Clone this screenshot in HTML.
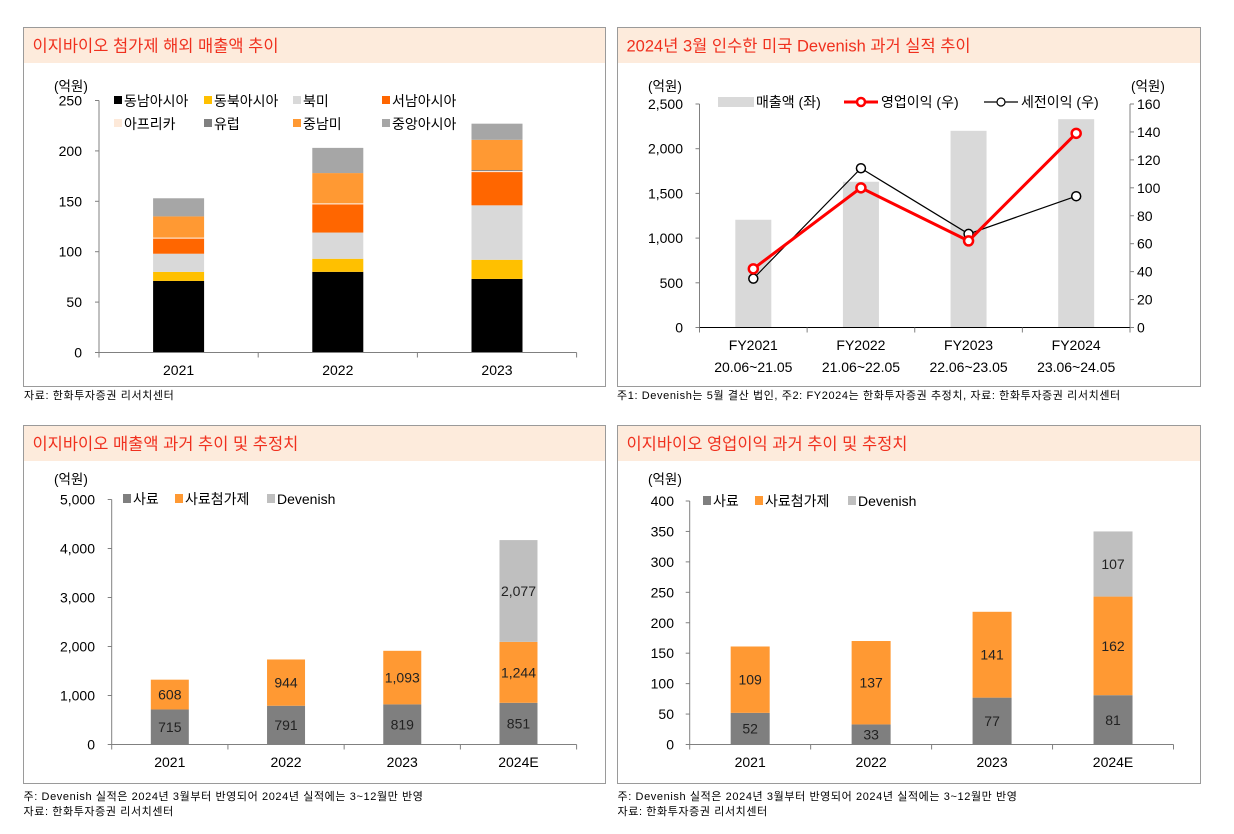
<!DOCTYPE html>
<html><head><meta charset="utf-8"><style>
html,body{margin:0;padding:0;background:#fff}
svg{display:block;font-family:"Liberation Sans","Noto Sans CJK KR",sans-serif}
</style></head><body>
<svg id="s" width="1234" height="834" viewBox="0 0 1234 834" xmlns="http://www.w3.org/2000/svg"></svg>
<script>
// ---- Chart 1 data ----
const c1Years = ['2021','2022','2023'];
const c1Series = ['동남아시아','동북아시아','북미','서남아시아','아프리카','유럽','중남미','중앙아시아'];
const c1SE = [71,80,73];
const c1NE = [9,13,19];
const c1NA = [18,26,54];
const c1SW = [15,28,33];
const c1AF = [1,1,1];
const c1EU = [0,0,1];
const c1LA = [21,30,30];
const c1CA = [18,25,16];
const c1Ticks = [0,50,100,150,200,250];
// ---- Chart 2 data ----
const c2Cats = ['FY2021','FY2022','FY2023','FY2024'];
const c2Periods = ['20.06~21.05','21.06~22.05','22.06~23.05','23.06~24.05'];
const c2Sales = [1205,1630,2200,2330];
const c2OpProfit = [42,100,62,139];
const c2PreTax = [35,114,67,94];
const c2LeftTicks = [0,500,1000,1500,2000,2500];
const c2RightTicks = [0,20,40,60,80,100,120,140,160];
// ---- Chart 3 data ----
const c3Years = ['2021','2022','2023','2024E'];
const c3Feed = [715,791,819,851];
const c3Additive = [608,944,1093,1244];
const c3Devenish = [0,0,0,2077];
const c3Ticks = [0,1000,2000,3000,4000,5000];
// ---- Chart 4 data ----
const c4Years = ['2021','2022','2023','2024E'];
const c4Feed = [52,33,77,81];
const c4Additive = [109,137,141,162];
const c4Devenish = [0,0,0,107];
const c4Ticks = [0,50,100,150,200,250,300,350,400];

const NS='http://www.w3.org/2000/svg';
const S=document.getElementById('s');
function el(tag,attrs,parent,text){const e=document.createElementNS(NS,tag);for(const k in attrs)e.setAttribute(k,attrs[k]);if(text!==undefined)e.textContent=text;(parent||S).appendChild(e);return e;}
function fmt(v){return v.toLocaleString('en-US');}

function panel(x,y,w,h,title,name){
  const g=el('g',{},S);
  
  
  const b=el('rect',{x:x,y:y,width:w,height:h,fill:'#fff',stroke:'#9a9a9a','stroke-width':1},g);
  
  
  const hd=el('rect',{x:x+0.5,y:y+0.5,width:w-1,height:35,fill:'#fdebdc'},g);
  
  
  const t=el('text',{x:x+9,y:y+24,fill:'#f0301e','font-size':16.5},g,title);
  
  
  return g;
}
function note(x,y,txt,g){const t=el('text',{x:x,y:y,'font-size':11,'letter-spacing':0.6,fill:'#000'},g,txt);
  
  }

// ================= Chart 1 =================
(function(){
  const g=panel(23.5,27.5,582,359,'이지바이오 첨가제 해외 매출액 추이','chart1-overseas-sales');
  const ax=99,x1=576.6,y0=352.5,yTop=100.5,max=250;
  const Y=v=>y0-(y0-yTop)*v/max;
  const bw=(x1-ax)/c1Years.length;
  const X=i=>ax+bw*(i+0.5);
  const cols=['#000000','#ffc000','#d9d9d9','#ff6600','#fde9d9','#808080','#ff9933','#a6a6a6'];
  const data=[c1SE,c1NE,c1NA,c1SW,c1AF,c1EU,c1LA,c1CA];
  c1Years.forEach((yr,i)=>{
    let acc=0;
    data.forEach((arr,k)=>{
      const v=arr[i]; if(v<=0) return;
      const r=el('rect',{x:X(i)-25.5,y:Y(acc+v),width:51,height:Y(acc)-Y(acc+v),fill:cols[k]},g);
      
      
      acc+=v;
    });
    const t=el('text',{x:X(i),y:375,'text-anchor':'middle','font-size':14},g,yr);
    
    
  });
  el('line',{x1:ax,y1:yTop,x2:ax,y2:y0,stroke:'#808080'},g);
  el('line',{x1:ax,y1:y0,x2:x1,y2:y0,stroke:'#808080'},g);
  for(let i=0;i<=c1Years.length;i++)el('line',{x1:ax+bw*i,y1:y0,x2:ax+bw*i,y2:y0+5,stroke:'#808080'},g);
  c1Ticks.forEach(v=>{
    el('line',{x1:ax-4,y1:Y(v),x2:ax,y2:Y(v),stroke:'#808080'},g);
    const t=el('text',{x:82,y:Y(v)+5,'text-anchor':'end','font-size':14},g,String(v));
    
    
  });
  const u=el('text',{x:54,y:91,'font-size':13.5},g,'(억원)');
  
  
  const lx=[114,204,293,382], ly=[101,124];
  c1Series.forEach((s,k)=>{
    const xx=lx[k%4], yy=ly[Math.floor(k/4)];
    const lg=el('g',{},g);
    
    
    el('rect',{x:xx,y:yy-5,width:8,height:8,fill:cols[k]},lg);
    el('text',{x:xx+10,y:yy+5,'font-size':14},lg,s);
  });
  note(24,399,'자료: 한화투자증권 리서치센터',S);
})();

// ================= Chart 2 =================
(function(){
  const g=panel(617.5,27.5,583,359,'2024년 3월 인수한 미국 Devenish 과거 실적 추이','chart2-devenish');
  const ax=699.5,ax2=1130,y0=327.5,yTop=104,maxL=2500,maxR=160;
  const YL=v=>y0-(y0-yTop)*v/maxL, YR=v=>y0-(y0-yTop)*v/maxR;
  const bw=(ax2-ax)/c2Cats.length;
  const X=i=>ax+bw*(i+0.5);
  c2Sales.forEach((v,i)=>{
    const r=el('rect',{x:X(i)-18,y:YL(v),width:36,height:y0-YL(v),fill:'#d9d9d9'},g);
    
    
  });
  el('line',{x1:ax,y1:yTop,x2:ax,y2:y0,stroke:'#808080'},g);
  el('line',{x1:ax2,y1:yTop,x2:ax2,y2:y0,stroke:'#808080'},g);
  el('line',{x1:ax,y1:y0,x2:ax2,y2:y0,stroke:'#000'},g);
  for(let i=0;i<=c2Cats.length;i++)el('line',{x1:ax+bw*i,y1:y0,x2:ax+bw*i,y2:y0+5,stroke:'#808080'},g);
  c2LeftTicks.forEach(v=>{
    el('line',{x1:ax-4,y1:YL(v),x2:ax,y2:YL(v),stroke:'#808080'},g);
    const t=el('text',{x:683,y:YL(v)+5,'text-anchor':'end','font-size':14},g,fmt(v));
    
    
  });
  c2RightTicks.forEach(v=>{
    el('line',{x1:ax2,y1:YR(v),x2:ax2+4,y2:YR(v),stroke:'#808080'},g);
    const t=el('text',{x:1137,y:YR(v)+5,'font-size':14},g,String(v));
    
    
  });
  c2Cats.forEach((c,i)=>{
    const t=el('text',{x:X(i),y:350,'text-anchor':'middle','font-size':14},g,c);
    
    
    const t2=el('text',{x:X(i),y:372,'text-anchor':'middle','font-size':14},g,c2Periods[i]);
    
    
  });
  function line(arr,color,w,name){
    const p=el('polyline',{points:arr.map((v,i)=>X(i)+','+YR(v)).join(' '),fill:'none',stroke:color,'stroke-width':w},g);
    
    
    arr.forEach((v,i)=>{
      const c=el('circle',{cx:X(i),cy:YR(v),r:4.5,fill:'#fff',stroke:color,'stroke-width':w==3?2.5:1.5},g);
      
      
    });
  }
  line(c2PreTax,'#000',1.2,'pretax-profit');
  line(c2OpProfit,'#ff0000',3,'operating-profit');
  const u1=el('text',{x:648,y:91,'font-size':13.5},g,'(억원)');
  
  
  const u2=el('text',{x:1131,y:91,'font-size':13.5},g,'(억원)');
  
  
  const ly=102;
  let lg=el('g',{},g);
  
  
  el('rect',{x:718,y:ly-5,width:36,height:10,fill:'#d9d9d9'},lg);
  el('text',{x:756,y:ly+5,'font-size':14},lg,'매출액 (좌)');
  lg=el('g',{},g);
  
  
  el('line',{x1:844,y1:ly,x2:878,y2:ly,stroke:'#f00','stroke-width':3},lg);
  el('circle',{cx:861,cy:ly,r:4,fill:'#fff',stroke:'#f00','stroke-width':2.5},lg);
  el('text',{x:881,y:ly+5,'font-size':14},lg,'영업이익 (우)');
  lg=el('g',{},g);
  
  
  el('line',{x1:984,y1:ly,x2:1018,y2:ly,stroke:'#000','stroke-width':1.2},lg);
  el('circle',{cx:1001,cy:ly,r:4,fill:'#fff',stroke:'#000','stroke-width':1.2},lg);
  el('text',{x:1021,y:ly+5,'font-size':14},lg,'세전이익 (우)');
  note(617,399,'주1: Devenish는 5월 결산 법인, 주2: FY2024는 한화투자증권 추정치, 자료: 한화투자증권 리서치센터',S);
})();

// ============ Stacked charts 3 & 4 ============
function stacked(cfg){
  const g=panel(cfg.bx,425.5,cfg.bw,358,cfg.title,cfg.name);
  const ax=cfg.ax,x1=cfg.x1,y0=744.5,yTop=cfg.yTop,max=cfg.ticks[cfg.ticks.length-1];
  const Y=v=>y0-(y0-yTop)*v/max;
  const cw=(x1-ax)/cfg.cats.length;
  const X=i=>ax+cw*(i+0.5);
  const cols=['#7f7f7f','#ff9933','#bfbfbf'];
  const names=['사료','사료첨가제','Devenish'];
  const data=[cfg.a,cfg.b,cfg.c];
  cfg.cats.forEach((yr,i)=>{
    let acc=0;
    data.forEach((arr,k)=>{
      const v=arr[i]; if(v<=0) return;
      const r=el('rect',{x:X(i)-cfg.barw/2,y:Y(acc+v),width:cfg.barw,height:Y(acc)-Y(acc+v),fill:cols[k]},g);
      
      
      const t=el('text',{x:X(i),y:(Y(acc)+Y(acc+v))/2+5,'text-anchor':'middle','font-size':14,fill:'#222'},g,fmt(v));
      
      
      acc+=v;
    });
    const t=el('text',{x:X(i),y:767,'text-anchor':'middle','font-size':14},g,yr);
    
    
  });
  el('line',{x1:ax,y1:yTop,x2:ax,y2:y0,stroke:'#808080'},g);
  el('line',{x1:ax,y1:y0,x2:x1,y2:y0,stroke:'#808080'},g);
  for(let i=0;i<=cfg.cats.length;i++)el('line',{x1:ax+cw*i,y1:y0,x2:ax+cw*i,y2:y0+5,stroke:'#808080'},g);
  cfg.ticks.forEach(v=>{
    el('line',{x1:ax-4,y1:Y(v),x2:ax,y2:Y(v),stroke:'#808080'},g);
    const t=el('text',{x:cfg.lblx,y:Y(v)+5,'text-anchor':'end','font-size':14},g,fmt(v));
    
    
  });
  const u=el('text',{x:cfg.ux,y:484,'font-size':13.5},g,'(억원)');
  
  
  names.forEach((n,k)=>{
    const lg=el('g',{},g);
    
    
    el('rect',{x:cfg.lx[k],y:cfg.ly-5,width:8,height:9,fill:cols[k]},lg);
    el('text',{x:cfg.lx[k]+10,y:cfg.ly+5,'font-size':14},lg,n);
  });
  note(cfg.bx,800,'주: Devenish 실적은 2024년 3월부터 반영되어 2024년 실적에는 3~12월만 반영',S);
  note(cfg.bx,815,'자료: 한화투자증권 리서치센터',S);
}
stacked({bx:23.5,bw:582,title:'이지바이오 매출액 과거 추이 및 추정치',name:'chart3-sales-estimates',
  ax:111.7,x1:576.6,yTop:499.5,barw:38,lblx:95,ux:54,lx:[123,175,267],ly:499,
  cats:c3Years,a:c3Feed,b:c3Additive,c:c3Devenish,ticks:c3Ticks});
stacked({bx:617.5,bw:583,title:'이지바이오 영업이익 과거 추이 및 추정치',name:'chart4-op-profit-estimates',
  ax:689.7,x1:1173.5,yTop:501,barw:39,lblx:674,ux:648,lx:[703,755,848],ly:501,
  cats:c4Years,a:c4Feed,b:c4Additive,c:c4Devenish,ticks:c4Ticks});
</script>
</body></html>
